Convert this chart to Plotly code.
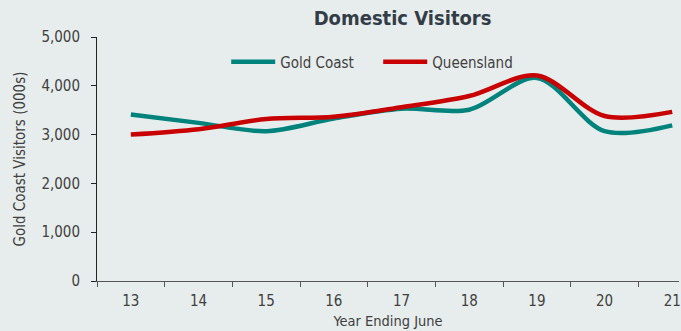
import plotly.graph_objects as go

years = ["13", "14", "15", "16", "17", "18", "19", "20", "21"]
gold_coast = [3410, 3240, 3070, 3330, 3530, 3510, 4160, 3070, 3190]
queensland = [3000, 3110, 3320, 3365, 3560, 3790, 4210, 3380, 3465]

bg = "#e7eded"
txt = "#404040"
font_family = "DejaVu Sans Condensed, DejaVu Sans, sans-serif"

fig = go.Figure()
fig.add_trace(go.Scatter(x=years, y=gold_coast, name="Gold Coast", mode="lines",
                         line=dict(color="#00837c", width=4.5, shape="spline", smoothing=0.9)))
fig.add_trace(go.Scatter(x=years, y=queensland, name="Queensland", mode="lines",
                         line=dict(color="#c80000", width=4.5, shape="spline", smoothing=0.9)))

fig.update_layout(
    width=681, height=331,
    margin=dict(l=97, r=0, t=37, b=50),
    paper_bgcolor=bg, plot_bgcolor=bg,
    font=dict(family=font_family, color=txt, size=15),
    title=dict(text="<b>Domestic Visitors</b>", x=0.525, xref="paper", xanchor="center",
               y=0.945, yref="container", yanchor="middle",
               font=dict(size=20, color="#333d47", family=font_family)),
    legend=dict(orientation="h", x=0.222, xanchor="left", y=0.965, yanchor="top",
                bgcolor="rgba(0,0,0,0)", font=dict(size=15, color=txt),
                itemwidth=44, entrywidth=93, entrywidthmode="pixels", tracegroupgap=0),
    showlegend=True,
)
fig.update_xaxes(type="category", range=[-0.5, 8.1], showgrid=False,
                 showline=True, linecolor="#555555", linewidth=1,
                 ticks="outside", tickson="boundaries", ticklen=5, tickcolor="#555555",
                 ticklabelstandoff=6,
                 tickfont=dict(size=15, color=txt),
                 title=dict(text="Year Ending June", font=dict(size=14.5, color=txt), standoff=6))
fig.update_yaxes(range=[0, 5000], showgrid=False, zeroline=False,
                 showline=True, linecolor="#222222", linewidth=1,
                 ticks="outside", ticklen=5, tickcolor="#222222",
                 tickvals=[0, 1000, 2000, 3000, 4000, 5000], tickformat=",d",
                 ticklabelstandoff=8,
                 tickfont=dict(size=15, color=txt),
                 title=dict(text="Gold Coast Visitors (000s)", font=dict(size=15, color=txt), standoff=12))

fig.write_html("out.html")
